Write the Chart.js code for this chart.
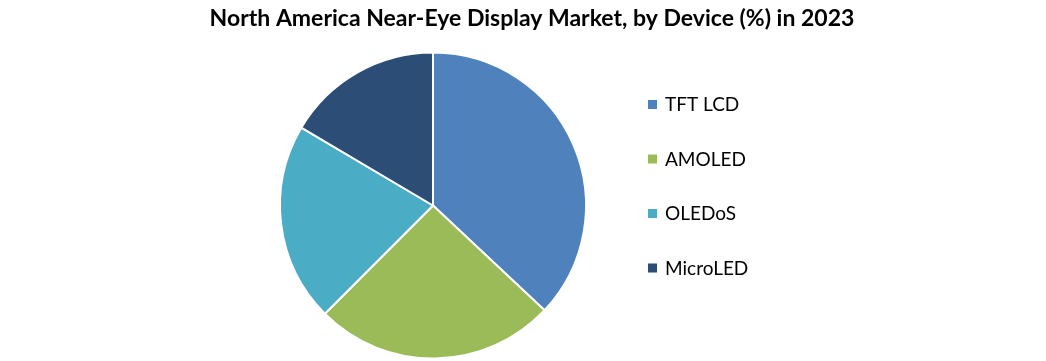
<!DOCTYPE html>
<html>
<head>
<meta charset="utf-8">
<script src="https://cdn.jsdelivr.net/npm/chart.js@4"></script>
<style>
  html, body { margin: 0; padding: 0; background: #fff; }
  #wrap { width: 1046px; height: 361px; position: relative; }
</style>
</head>
<body>
<div id="wrap"><canvas id="chart_device"></canvas></div>
<script>
const TITLE = 'North America Near-Eye Display Market, by Device (%) in 2023';
const DEVICES = ['TFT LCD', 'AMOLED', 'OLEDoS', 'MicroLED'];
const SHARES = [37, 25.5, 21, 16.5];
const COLORS = ['#4F81BD', '#9BBB59', '#4BACC6', '#2C4D75'];

// title + legend drawn by hand so they sit where the original has them
const sideText = {
  id: 'sideText',
  afterDraw(chart) {
    const ctx = chart.ctx;
    ctx.save();
    ctx.fillStyle = '#000';
    ctx.font = 'bold 23px Lato, "Open Sans", sans-serif';
    ctx.textAlign = 'center';
    ctx.textBaseline = 'middle';
    ctx.fillText(TITLE, 532, 19);

    ctx.font = '19px Lato, "Open Sans", sans-serif';
    ctx.textAlign = 'left';
    const labels = chart.data.labels;
    const colors = chart.data.datasets[0].backgroundColor;
    labels.forEach((lab, i) => {
      const y = 104 + i * 54.5;
      ctx.fillStyle = colors[i];
      ctx.fillRect(648, y - 4, 9, 9);
      ctx.fillStyle = '#000';
      ctx.fillText(lab, 665, y + 1);
    });
    ctx.restore();
  }
};

new Chart(document.getElementById('chart_device'), {
  type: 'pie',
  data: {
    labels: DEVICES,
    datasets: [{
      data: SHARES,
      backgroundColor: COLORS,
      borderColor: '#fff',
      borderWidth: 2
    }]
  },
  options: {
    responsive: true,
    maintainAspectRatio: false,
    animation: false,
    layout: { padding: { top: 51, bottom: 1, left: 279, right: 459 } },
    plugins: {
      legend: { display: false },
      title: { display: false },
      tooltip: { enabled: false }
    }
  },
  plugins: [sideText]
});
</script>
</body>
</html>
